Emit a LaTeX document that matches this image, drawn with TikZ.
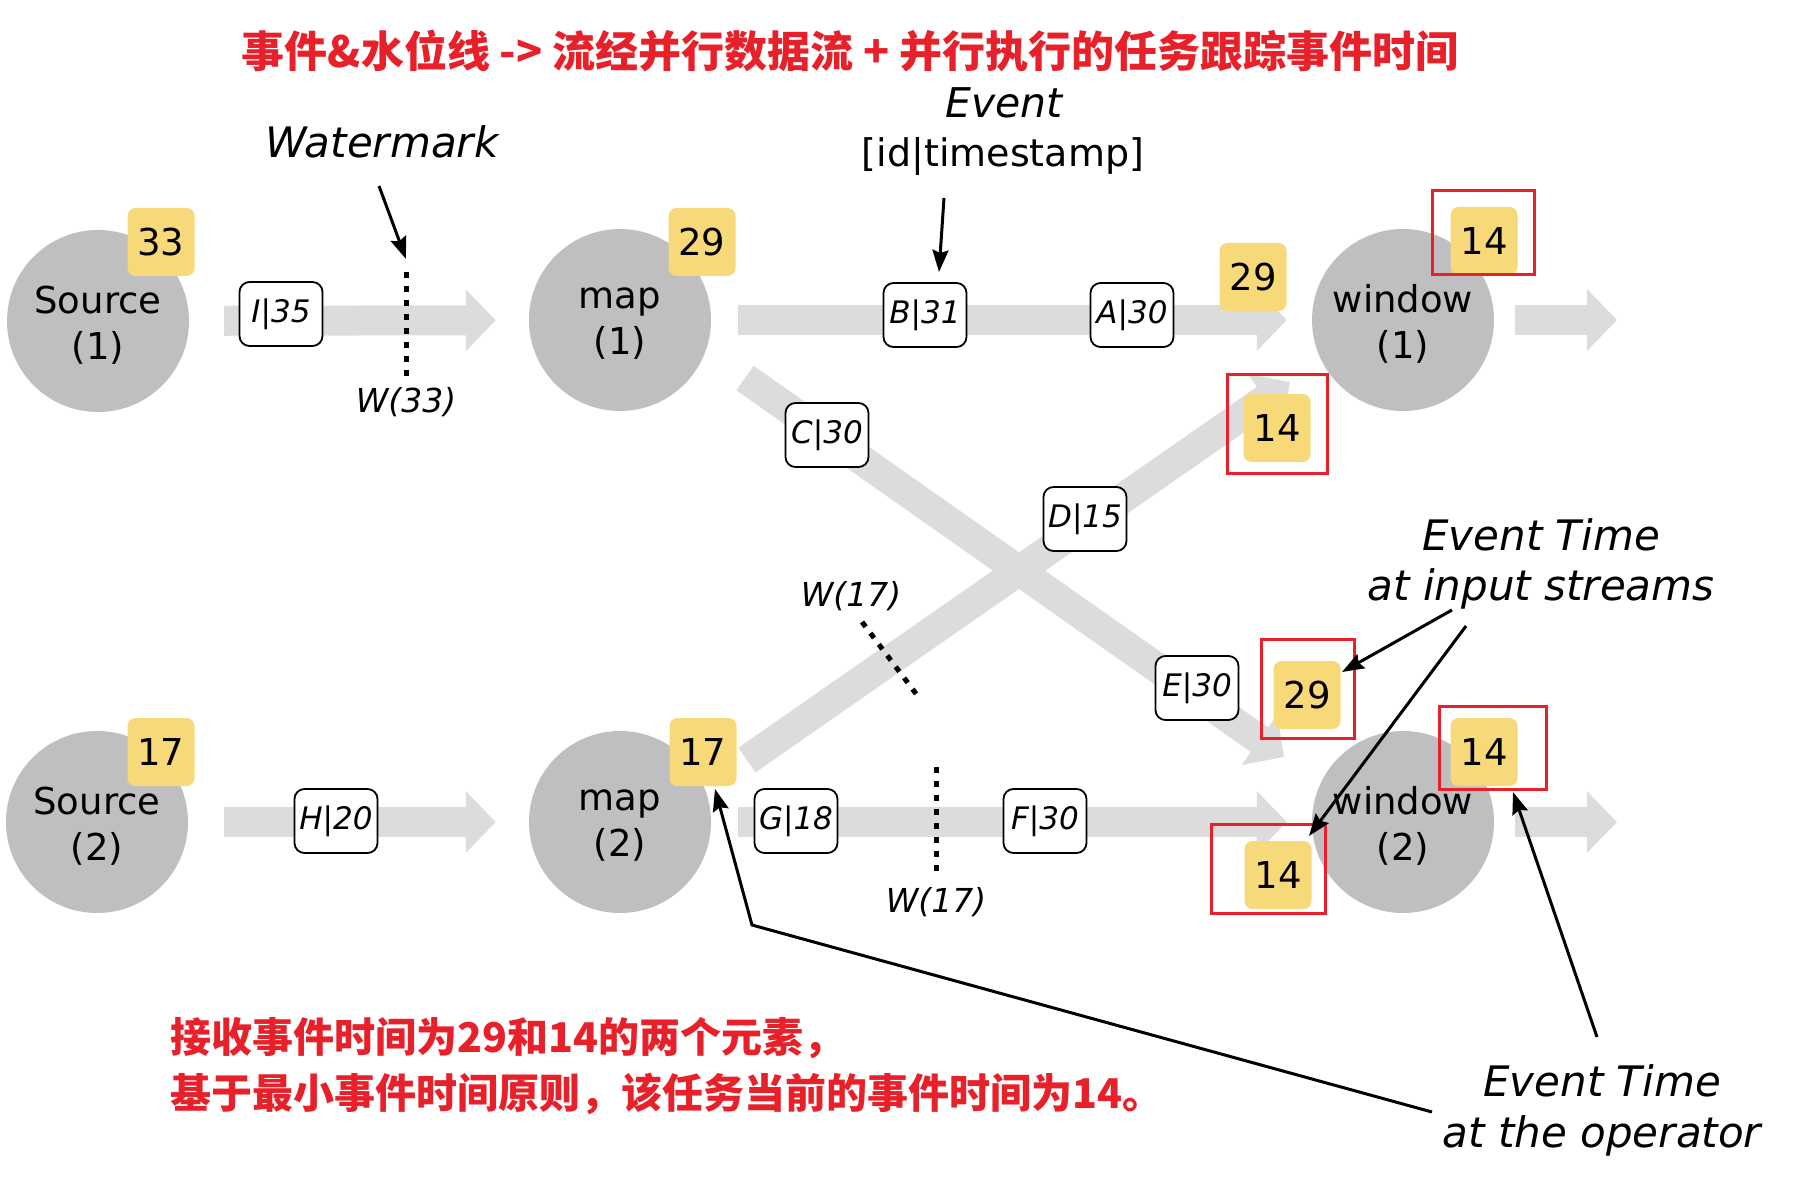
\documentclass[tikz,border=0pt]{standalone}
\usepackage{fontspec}
\setmainfont{DejaVu Sans}
\newfontfamily\cjk{Noto Sans CJK SC}
\usetikzlibrary{arrows.meta,calc}
\definecolor{opgray}{HTML}{BFBFC1}
\definecolor{flowgray}{HTML}{DCDCDC}
\definecolor{badgey}{HTML}{F8D97A}
\definecolor{hlred}{HTML}{E8202A}
\begin{document}
\begin{tikzpicture}[x=1pt,y=-1pt,
  op/.style={circle, fill=opgray, minimum size=182pt, inner sep=0pt},
  optext/.style={align=center, inner sep=0pt, font=\fontsize{37}{46}\selectfont},
  badgebox/.style={rectangle, rounded corners=8pt, fill=badgey, minimum width=67pt, minimum height=68pt, inner sep=0pt, font=\fontsize{37}{40}\selectfont},
  evt/.style={rectangle, rounded corners=10pt, draw=black, line width=1.8pt, fill=white, minimum width=83pt, minimum height=64pt, inner sep=2pt, font=\itshape\fontsize{31}{33}\selectfont},
  flow/.style={draw=flowgray, line width=30pt, -{Triangle[length=30pt,width=60pt]}},
  hlbox/.style={draw=hlred, line width=3pt, rectangle, inner sep=0pt},
  wmline/.style={line width=5pt, dash pattern=on 6pt off 8pt},
  pointer/.style={line width=3pt, -{Stealth[length=22pt,width=16pt,inset=3pt]}},
  lbl/.style={font=\itshape\fontsize{42}{50}\selectfont, anchor=base},
  wlbl/.style={font=\itshape\fontsize{33}{36}\selectfont},
  note/.style={text=hlred, font=\cjk\bfseries\fontsize{41}{52}\selectfont, anchor=base west}
]
\useasboundingbox[fill=white] (0,0) rectangle (1808,1177);

% title
\node[text=hlred, font=\cjk\bfseries\fontsize{43}{50}\selectfont] (title) at (850,51) {事件\&水位线 -> 流经并行数据流 + 并行执行的任务跟踪事件时间};

% operators
\node[op] (src1) at (98,321) {};
\node[op] (map1) at (620,320) {};
\node[op] (win1) at (1403,320) {};
\node[op] (src2) at (97,822) {};
\node[op] (map2) at (620,822) {};
\node[op] (win2) at (1403,822) {};
\node[optext] (src1t) at ($(src1)+(0,4)$) {Source\\(1)};
\node[optext] (map1t) at ($(map1)+(0,4)$) {map\\(1)};
\node[optext] (win1t) at ($(win1)+(0,4)$) {window\\(1)};
\node[optext] (src2t) at ($(src2)+(0,4)$) {Source\\(2)};
\node[optext] (map2t) at ($(map2)+(0,4)$) {map\\(2)};
\node[optext] (win2t) at ($(win2)+(0,4)$) {window\\(2)};
\coordinate (out1) at (1617,320);
\coordinate (out2) at (1617,822);

% flows
\draw[flow, shorten <=35pt, shorten >=33pt] (src1) -- (map1);
\draw[flow, shorten <=27pt, shorten >=25pt] (map1) -- (win1);
\draw[flow, shorten <=21pt] (win1) -- (out1);
\draw[flow, shorten <=36pt, shorten >=33pt] (src2) -- (map2);
\draw[flow, shorten <=27pt, shorten >=25pt] (map2) -- (win2);
\draw[flow, shorten <=21pt] (win2) -- (out2);
\draw[flow] ($(map1)+(125,58)$) -- ($(win2)+(-119,-65)$);
\draw[flow] ($(map2)+(127,-62)$) -- ($(win1)+(-113,62)$);

% event boxes
\node[evt] (eI) at (281,314) {I|35};
\node[evt] (eB) at (925,315) {B|31};
\node[evt] (eA) at (1132,315) {A|30};
\node[evt] (eC) at (827,435) {C|30};
\node[evt] (eD) at (1085,519) {D|15};
\node[evt] (eE) at (1197,688) {E|30};
\node[evt] (eH) at (336,821) {H|20};
\node[evt] (eG) at (796,821) {G|18};
\node[evt] (eF) at (1045,821) {F|30};

% badges
\node[badgebox] (b33) at (161,242) {33};
\node[badgebox] (b29a) at (702,242) {29};
\node[badgebox] (b29b) at (1253,277) {29};
\node[badgebox] (b14a) at (1484,241) {14};
\node[badgebox] (b14b) at (1277,428) {14};
\node[badgebox] (b17a) at (161,752) {17};
\node[badgebox] (b17b) at (703,752) {17};
\node[badgebox] (b29c) at (1307,695) {29};
\node[badgebox] (b14c) at (1484,752) {14};
\node[badgebox] (b14d) at (1278,875) {14};

% red highlight boxes
\node[hlbox, minimum width=102pt, minimum height=84pt] (r1) at (1483,233) {};
\node[hlbox, minimum width=100pt, minimum height=99pt] (r2) at (1277,423.5) {};
\node[hlbox, minimum width=93pt, minimum height=99pt] (r3) at (1307.5,688.5) {};
\node[hlbox, minimum width=107pt, minimum height=83pt] (r4) at (1492.5,747.5) {};
\node[hlbox, minimum width=114pt, minimum height=89pt] (r5) at (1268,868.5) {};

% watermarks
\coordinate (w33t) at (406,272);
\coordinate (w33b) at (406,376);
\draw[wmline] (w33t) -- (w33b);
\node[wlbl] (w33) at (406,402) {W(33)};
\coordinate (w17t) at (936,767);
\coordinate (w17b) at (936,872);
\draw[wmline] (w17t) -- (w17b);
\node[wlbl] (w17) at (936,902) {W(17)};
\coordinate (w17dt) at (862,622);
\coordinate (w17db) at (917,695);
\draw[wmline] (w17dt) -- (w17db);
\node[wlbl] (w17d) at (851,596) {W(17)};

% labels
\node[lbl] (wmk) at (382,158) {Watermark};
\node[lbl, font=\itshape\fontsize{41}{48}\selectfont] (evl) at (1004,118) {Event};
\node[lbl, font=\fontsize{38}{46}\selectfont] (evf) at (1003,167) {[id|timestamp]};
\node[lbl] (eti1) at (1541,550) {Event Time};
\node[lbl] (eti2) at (1541,600) {at input streams};
\node[lbl] (eto1) at (1602,1096) {Event Time};
\node[lbl] (eto2) at (1602,1147) {at the operator};

% pointers
\coordinate (wmA) at (379,186);
\coordinate (wmB) at (406,259);
\draw[pointer] (wmA) -- (wmB);
\coordinate (evA) at (944,198);
\coordinate (evB) at (939,272);
\draw[pointer] (evA) -- (evB);
\coordinate (inA) at (1452,610);
\coordinate (inB) at (1342,672);
\draw[pointer] (inA) -- (inB);
\coordinate (inC) at (1466,626);
\coordinate (inD) at (1309,836);
\draw[pointer] (inC) -- (inD);
\coordinate (opA) at (1597,1037);
\coordinate (opB) at (1513,792);
\draw[pointer] (opA) -- (opB);
\coordinate (opC) at (1432,1112);
\coordinate (opK) at (752,925);
\coordinate (opD) at (715,789);
\draw[pointer] (opC) -- (opK) -- (opD);

% notes
\node[note] (n1) at (167,1052) {接收事件时间为29和14的两个元素，};
\node[note] (n2) at (167,1108) {基于最小事件时间原则，该任务当前的事件时间为14。};
\end{tikzpicture}
\end{document}
